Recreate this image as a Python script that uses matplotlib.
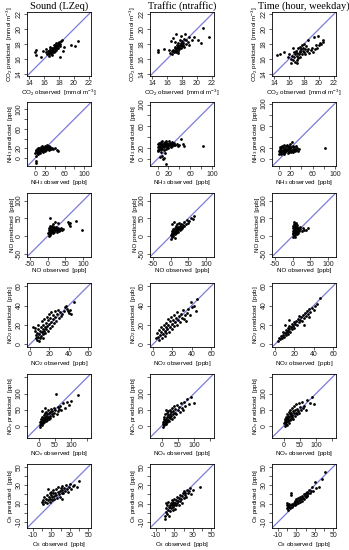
import matplotlib
matplotlib.use("Agg")
import matplotlib.pyplot as plt
import numpy as np

plt.rcParams["font.family"] = ["Liberation Sans", "DejaVu Sans"]
plt.rcParams["mathtext.fontset"] = "custom"
plt.rcParams["mathtext.rm"] = "Liberation Sans"
plt.rcParams["mathtext.it"] = "Liberation Sans:italic"

# ---------------- data: (observed, predicted) pairs per panel ----------------
co2_sound = [(14.7,16.9),(14.9,17.2),(14.9,16.5),(15.6,16.2),(15.8,17.0),(16.2,16.9),(16.4,16.6),(16.5,17.1),(16.6,16.8),(16.7,17.0),(16.7,16.7),(16.8,17.3),(16.8,16.9),(16.9,17.1),(16.9,16.6),(17.0,17.4),(17.0,17.0),(17.1,16.8),(17.1,17.2),(17.2,17.5),(17.2,17.0),(17.3,17.3),(17.3,16.9),(17.4,17.6),(17.4,17.1),(17.5,17.4),(17.5,17.8),(17.6,17.2),(17.6,17.6),(17.7,17.9),(17.7,17.4),(17.8,17.7),(17.8,18.1),(17.9,17.5),(18.0,17.9),(18.0,18.3),(18.1,17.7),(18.2,18.0),(18.3,18.4),(18.1,16.3),(18.5,17.0),(18.7,17.6),(19.6,17.9),(20.1,17.7),(20.6,18.4),(16.6,16.4),(17.0,16.5),(16.8,17.6),(17.3,17.8),(17.6,18.2),(18.4,18.6),(16.3,17.3)]
co2_traffic = [(14.7,16.9),(14.8,17.2),(15.6,17.3),(16.2,17.2),(16.4,16.8),(16.6,17.0),(16.7,16.7),(16.8,17.2),(16.9,16.9),(17.0,17.4),(17.0,17.0),(17.1,17.6),(17.2,17.2),(17.2,16.9),(17.3,17.5),(17.3,17.8),(17.4,17.1),(17.4,17.4),(17.5,17.7),(17.5,18.2),(17.6,17.3),(17.6,17.6),(17.7,17.9),(17.7,18.6),(17.8,17.5),(17.8,17.8),(17.9,18.1),(17.9,19.1),(18.0,17.7),(18.0,18.4),(18.1,17.9),(18.2,18.2),(18.3,18.7),(18.3,17.6),(18.5,18.0),(18.6,18.6),(18.8,18.3),(19.0,18.9),(19.3,18.6),(19.6,18.9),(20.1,18.5),(20.8,20.1),(20.6,18.2),(21.6,18.9),(16.8,18.8),(17.2,19.4),(18.4,19.3),(17.0,18.3),(16.5,18.4),(18.9,17.8),(17.5,16.8)]
co2_time = [(14.4,16.5),(14.7,16.7),(15.3,16.9),(15.8,16.2),(16.0,16.6),(16.2,15.5),(16.3,16.0),(16.4,16.4),(16.5,15.8),(16.6,16.9),(16.7,16.2),(16.8,15.6),(16.8,16.7),(16.9,17.1),(17.0,16.4),(17.0,15.9),(17.1,16.8),(17.2,17.4),(17.2,16.1),(17.3,16.6),(17.4,17.0),(17.4,17.6),(17.5,16.3),(17.5,16.9),(17.6,17.3),(17.7,17.8),(17.7,16.7),(17.8,17.1),(17.9,17.5),(18.0,16.9),(18.0,18.0),(18.1,17.3),(18.2,16.6),(18.3,17.7),(18.4,17.1),(18.6,17.3),(18.7,16.8),(18.9,17.2),(19.1,17.5),(19.2,16.9),(19.4,18.9),(19.5,17.3),(19.6,17.8),(19.8,17.5),(19.9,19.1),(20.0,17.8),(20.2,18.2),(20.3,18.0),(20.5,18.5),(20.6,18.3),(17.1,15.4),(16.5,17.5),(18.5,18.5)]

nh3_sound = [(1,-10),(2,-5),(1,4),(0,10),(1,14),(2,17),(3,11),(4,15),(5,12),(5,18),(6,9),(7,16),(8,13),(8,20),(9,17),(10,11),(10,15),(11,19),(12,16),(12,22),(13,14),(14,18),(15,20),(15,12),(16,23),(17,17),(18,21),(19,15),(20,19),(20,24),(21,17),(22,22),(23,20),(24,26),(25,18),(26,23),(27,21),(28,17),(29,24),(30,20),(31,22),(33,19),(35,21),(37,18),(40,20),(44,16),(46,14),(3,19),(6,21),(14,24)]
nh3_traffic = [(0,17),(0,22),(1,27),(1,14),(2,19),(2,30),(3,24),(3,16),(4,3),(5,21),(5,28),(6,18),(6,25),(7,31),(7,13),(8,22),(8,27),(9,19),(9,33),(10,-1),(10,24),(11,29),(11,17),(12,21),(12,26),(13,31),(13,10),(14,23),(14,28),(15,-9),(15,19),(16,25),(16,32),(17,22),(17,27),(18,30),(19,24),(20,20),(20,28),(21,33),(22,25),(23,29),(24,22),(25,27),(26,31),(27,24),(28,28),(30,26),(31,30),(33,25),(35,28),(37,23),(40,26),(44,36),(46,27),(49,24),(83,24),(8,6),(12,2)]
nh3_time = [(0,10),(0,15),(1,19),(1,12),(2,22),(3,9),(3,16),(4,13),(4,20),(5,24),(6,11),(6,17),(7,14),(7,21),(8,9),(8,18),(9,25),(9,13),(10,16),(10,20),(11,12),(12,23),(12,17),(13,14),(14,19),(14,26),(15,11),(15,16),(16,21),(17,13),(17,18),(18,24),(19,15),(19,20),(20,28),(21,12),(21,17),(22,22),(23,30),(23,15),(24,19),(25,13),(25,24),(26,17),(27,21),(28,14),(29,18),(30,23),(31,16),(32,20),(33,14),(35,18),(82,20)]

no_sound = [(2,8),(3,12),(4,18),(5,6),(5,22),(6,14),(7,30),(7,10),(8,51),(8,19),(9,25),(10,9),(10,15),(11,21),(12,12),(12,28),(13,17),(14,35),(14,8),(15,23),(16,14),(17,19),(18,27),(19,11),(20,22),(21,16),(22,40),(23,25),(24,18),(25,13),(26,21),(28,17),(29,37),(30,24),(32,15),(34,20),(36,18),(38,22),(40,16),(42,19),(58,41),(60,33),(62,37),(64,30),(80,43),(98,16),(3,0),(6,3)]
no_traffic = [(1,-8),(2,3),(3,10),(4,-3),(5,6),(5,15),(6,1),(7,12),(8,20),(8,5),(9,9),(10,16),(11,-5),(11,24),(12,11),(13,6),(14,18),(15,28),(15,13),(16,9),(17,22),(18,15),(19,33),(20,19),(21,11),(22,26),(23,21),(24,38),(25,16),(26,30),(27,24),(28,20),(30,35),(31,27),(33,22),(35,31),(37,40),(39,28),(42,34),(45,45),(48,38),(52,42),(58,50),(62,47),(66,58),(4,35),(10,40)]
no_time = [(0,5),(0,15),(1,-3),(1,22),(2,10),(2,30),(3,2),(3,18),(4,26),(4,8),(5,35),(5,14),(6,-2),(6,21),(7,11),(7,28),(8,4),(8,17),(9,24),(9,38),(10,9),(10,15),(11,20),(11,31),(12,6),(12,13),(13,25),(14,18),(15,10),(16,22),(18,15),(20,26),(22,19),(25,14),(28,22),(32,18),(38,16),(44,24),(3,40),(6,33)]

no2_sound = [(5,17),(5,14),(6,10),(6,6),(7,4),(7,12),(8,16),(8,8),(9,3),(9,11),(10,14),(10,6),(11,18),(11,9),(12,13),(12,24),(13,16),(13,7),(14,11),(14,20),(15,14),(15,26),(16,18),(16,12),(17,22),(17,16),(18,28),(18,19),(19,14),(19,25),(20,21),(20,31),(21,17),(21,27),(22,23),(22,33),(23,19),(24,26),(24,30),(25,22),(26,34),(26,28),(27,24),(28,31),(29,35),(30,27),(31,33),(32,29),(33,31),(35,34),(36,38),(37,40),(38,36),(39,34),(40,32),(41,35),(42,31),(45,44),(8,20),(3,18)]
no2_traffic = [(3,6),(4,12),(5,8),(6,15),(6,4),(7,10),(8,13),(8,18),(9,7),(10,11),(10,16),(11,20),(12,14),(12,9),(13,18),(14,22),(14,12),(15,16),(16,26),(16,20),(17,13),(18,18),(18,24),(19,28),(20,16),(20,21),(21,25),(22,19),(22,30),(23,23),(24,27),(25,20),(25,33),(26,25),(27,29),(28,23),(29,31),(30,27),(31,35),(32,26),(33,30),(34,24),(35,32),(36,36),(38,30),(40,38),(42,40),(44,34),(45,47),(39,44)]
no2_time = [(3,3),(4,7),(5,5),(6,9),(7,6),(8,10),(8,13),(9,8),(10,12),(11,10),(11,15),(12,13),(13,11),(13,17),(14,14),(15,16),(15,19),(16,13),(17,18),(18,16),(18,21),(19,19),(20,23),(20,17),(21,21),(22,24),(23,20),(24,26),(25,23),(25,29),(26,25),(27,28),(28,24),(29,30),(30,27),(31,32),(32,29),(33,34),(34,31),(35,36),(36,33),(38,37),(40,35),(41,40),(43,42),(46,48),(10,20),(15,25),(30,20),(35,28)]

nox_sound = [(2,2),(3,10),(4,-3),(5,16),(6,6),(7,22),(8,12),(9,1),(10,18),(11,28),(12,8),(13,14),(14,24),(15,34),(16,19),(17,11),(18,27),(19,38),(20,22),(21,15),(22,30),(23,44),(24,25),(25,18),(26,35),(28,28),(29,48),(30,22),(31,38),(33,31),(35,42),(36,25),(38,52),(40,35),(42,45),(44,30),(46,55),(48,40),(50,48),(52,100),(55,36),(58,58),(60,45),(63,52),(66,62),(70,50),(75,70),(80,55),(88,75),(95,64),(100,77),(123,96),(10,45),(20,55)]
nox_traffic = [(2,5),(3,-5),(4,12),(5,20),(6,2),(7,14),(8,28),(9,9),(10,18),(11,35),(12,5),(13,22),(14,14),(15,40),(16,26),(17,10),(18,32),(19,19),(20,45),(21,28),(22,15),(24,36),(25,24),(26,50),(28,30),(29,42),(30,20),(32,55),(33,35),(35,46),(37,28),(38,60),(40,40),(42,52),(45,35),(47,65),(50,48),(52,58),(55,42),(58,70),(62,55),(65,48),(68,75),(72,60),(78,82),(85,68),(92,90),(100,70),(12,50)]
nox_time = [(1,8),(2,0),(3,15),(4,22),(5,5),(6,12),(7,28),(8,18),(9,3),(10,25),(11,35),(12,14),(13,30),(14,20),(15,42),(16,9),(17,26),(18,36),(19,18),(20,50),(21,30),(22,22),(23,40),(24,55),(25,28),(26,34),(28,46),(29,20),(30,38),(32,60),(33,30),(35,48),(37,40),(38,66),(40,35),(42,52),(44,45),(46,70),(48,38),(50,58),(53,48),(56,75),(60,55),(64,62),(68,50),(72,80),(80,72),(88,90),(95,68)]

o3_sound = [(0,12),(1,14),(1,10),(2,17),(3,12),(4,15),(5,19),(5,11),(6,26),(6,14),(7,17),(8,21),(8,12),(9,15),(10,19),(10,23),(11,14),(11,17),(12,21),(12,25),(13,18),(13,15),(14,22),(15,19),(15,26),(16,16),(17,23),(17,28),(18,20),(19,24),(19,17),(20,27),(21,22),(21,15),(22,25),(22,29),(23,21),(24,27),(25,24),(26,30),(27,26),(28,23),(29,28),(30,31),(31,26),(33,29),(35,30),(38,28),(40,35)]
o3_traffic = [(0,-7),(0,-3),(1,1),(1,5),(1,11),(2,-1),(2,8),(3,3),(3,12),(4,6),(4,-4),(5,9),(5,2),(6,11),(6,5),(7,8),(7,14),(8,3),(8,10),(9,12),(9,6),(10,9),(10,15),(11,11),(11,4),(12,14),(12,8),(13,17),(13,11),(14,13),(15,16),(15,9),(16,19),(16,13),(17,15),(18,18),(18,11),(19,21),(20,16),(20,24),(21,19),(22,22),(23,17),(24,25),(25,21),(26,24),(27,27),(28,20),(30,25),(38,28)]
o3_time = [(0,5),(0,8),(0,11),(1,6),(1,9),(1,3),(2,7),(2,10),(3,5),(4,8),(4,19),(4,22),(5,6),(5,10),(6,8),(7,11),(8,9),(8,13),(9,12),(10,10),(10,15),(11,13),(12,11),(12,16),(13,14),(14,17),(14,12),(15,15),(16,18),(16,13),(17,16),(18,20),(18,15),(19,18),(20,22),(20,17),(21,19),(22,23),(22,18),(23,21),(24,25),(25,22),(26,24),(27,28),(28,24),(30,33),(31,27),(34,28),(38,37),(41,44)]

col_titles = ["Sound (LZeq)", "Traffic (ntraffic)", "Time (hour, weekday)"]
species = [r"CO$_2$", r"NH$_3$", "NO", r"NO$_2$", r"NO$_x$", r"O$_3$"]
units = [r"[mmol m$^{-3}$]", "[ppb]", "[ppb]", "[ppb]", "[ppb]", "[ppb]"]
ticks = [[14, 16, 18, 20, 22], [0, 20, 40, 60, 80, 100], [-50, 0, 50, 100],
         [0, 20, 40, 60], [0, 50, 100, 150], [-10, 0, 10, 20, 30, 40, 50]]
tick_labels = [["14", "16", "18", "20", "22"], ["0", "20", "", "60", "", "100"],
               ["-50", "0", "50", "100"], ["0", "20", "40", "60"],
               ["0", "50", "100", ""], ["-10", "", "10", "", "30", "", "50"]]
limits = [[(13.68, 22.32)] * 3,
          [(-17, 114), (-14, 104), (-13, 102)],
          [(-58, 122), (-58, 122), (-58, 122)],
          [(-3, 63), (-3, 63), (-3, 63)],
          [(-37, 162), (-37, 162), (-37, 162)],
          [(-16.5, 53), (-16.5, 53), (-16.5, 53)]]
panels = [[co2_sound, co2_traffic, co2_time],
          [nh3_sound, nh3_traffic, nh3_time],
          [no_sound, no_traffic, no_time],
          [no2_sound, no2_traffic, no2_time],
          [nox_sound, nox_traffic, nox_time],
          [o3_sound, o3_traffic, o3_time]]

W, H = 349, 550
fig = plt.figure(figsize=(W / 100, H / 100), dpi=100)
col_left = [27, 150, 272]
box = 64
row_top = [12 + 90.4 * i for i in range(6)]

for r in range(6):
    for c in range(3):
        ax = fig.add_axes([col_left[c] / W, 1 - (row_top[r] + box) / H, box / W, box / H])
        pts = np.array(panels[r][c], dtype=float)
        lo, hi = limits[r][c]
        ax.set_xlim(lo, hi)
        ax.set_ylim(lo, hi)
        ax.axline((0, 0), slope=1, color="#7b7bd9", lw=0.9, zorder=1)
        ax.plot(pts[:, 0], pts[:, 1], "o", color="black", ms=2.0, mew=0, zorder=2)
        ax.set_xticks(ticks[r])
        ax.set_xticklabels(tick_labels[r])
        ax.set_yticks(ticks[r])
        ax.set_yticklabels(tick_labels[r], rotation=90, va="center")
        ax.tick_params(length=2, width=0.5, pad=1, labelsize=5, colors="#222222")
        for s in ax.spines.values():
            s.set_linewidth(0.6)
        ax.set_xlabel(species[r] + " observed  " + units[r], fontsize=4.5, labelpad=0.3)
        ax.set_ylabel(species[r] + " predicted  " + units[r], fontsize=4.5, labelpad=0.8)
        if r == 0:
            ax.set_title(col_titles[c], fontsize=7.5, family="Liberation Serif", pad=2)

fig.savefig("out.png", dpi=100)
